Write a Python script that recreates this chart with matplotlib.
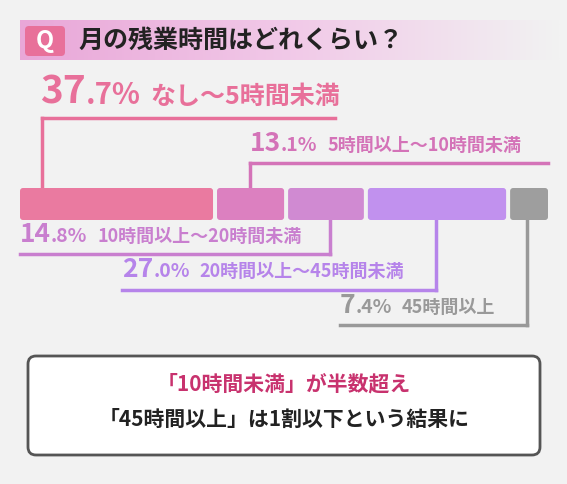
import matplotlib
matplotlib.use("Agg")
import matplotlib.pyplot as plt
from matplotlib.patches import FancyBboxPatch
from matplotlib.colors import LinearSegmentedColormap
import numpy as np

plt.rcParams['font.family'] = ['Noto Sans CJK JP', 'DejaVu Sans']

title = "月の残業時間はどれくらい？"
categories = ["なし～5時間未満", "5時間以上～10時間未満", "10時間以上～20時間未満", "20時間以上～45時間未満", "45時間以上"]
values = [37.7, 13.1, 14.8, 27.0, 7.4]
colors = ["#ea7aa0", "#dc80c0", "#d08ad2", "#c191ee", "#9e9e9e"]
line1 = "「10時間未満」が半数超え"
line2 = "「45時間以上」は1割以下という結果に"

W, H = 567, 484
fig = plt.figure(figsize=(W/100, H/100), dpi=100)
fig.patch.set_facecolor("#f2f2f2")
ax = fig.add_axes([0, 0, 1, 1])
ax.set_xlim(0, W); ax.set_ylim(H, 0); ax.axis("off")

grad = np.linspace(0, 1, 256).reshape(1, -1)
cm = LinearSegmentedColormap.from_list("g", ["#e9a7d8", "#f1c9e8", "#f2f2f2"])
ax.imshow(grad, cmap=cm, extent=[20, 560, 60, 20], aspect="auto", zorder=0)
ax.add_patch(FancyBboxPatch((25, 26), 40, 30, boxstyle="round,pad=0,rounding_size=4", fc="#e8709a", ec="none", zorder=1))
ax.text(45, 41, "Q", color="white", fontsize=17, fontweight="bold", ha="center", va="center", zorder=2)
ax.text(78, 41, title, fontsize=18, fontweight="bold", ha="left", va="center", color="#222")

x0, total, gap = 20, 528, 4
scale = (total - gap*(len(values)-1)) / sum(values)
x = x0
for v, c in zip(values, colors):
    w = v*scale
    ax.add_patch(FancyBboxPatch((x, 188), w, 32, boxstyle="round,pad=0,rounding_size=3", fc=c, ec="none", zorder=2))
    x += w + gap

specs = [
    (42, 118, (42, 335), 40, 104, 28, 21, 18),
    (250, 163, (250, 548), 250, 151, 19, 14, 13),
    (330, 254, (20, 330), 20, 242, 19, 14, 13),
    (436, 290, (122, 436), 122, 277, 19, 14, 13),
    (527, 325, (340, 527), 340, 313, 19, 14, 13),
]
labcols = ["#e8709a", "#d473b8", "#c97fcf", "#b684ea", "#999999"]
fig.canvas.draw()
for i, (v, cat) in enumerate(zip(values, categories)):
    ax_, ly, (h0, h1), lx, lyy, fb, fd, fs = specs[i]
    c = labcols[i]
    ybar = 188 if ly < 188 else 220
    ax.plot([ax_, ax_], [ybar, ly], color=c, lw=2.5, zorder=1)
    ax.plot([h0, h1], [ly, ly], color=c, lw=2.5, zorder=1)
    ip, dp = f"{v:.1f}".split(".")
    t1 = ax.text(lx, lyy, ip, fontsize=fb, color=c, fontweight="bold", ha="left", va="baseline")
    bb = t1.get_window_extent(renderer=fig.canvas.get_renderer())
    t2 = ax.text(bb.x1, H - lyy, f".{dp}%", fontsize=fd, color=c, fontweight="bold",
                 ha="left", va="baseline", transform=None)
    bb2 = t2.get_window_extent(renderer=fig.canvas.get_renderer())
    ax.text(bb2.x1 + 10, H - lyy, cat, fontsize=fs, color=c, fontweight="bold",
            ha="left", va="baseline", transform=None)

ax.add_patch(FancyBboxPatch((28, 356), 512, 99, boxstyle="round,pad=0,rounding_size=8", fc="white", ec="#555555", lw=2, zorder=1))
ax.text(284, 384, line1, fontsize=15, fontweight="bold", color="#c8326e", ha="center", va="center")
ax.text(284, 419, line2, fontsize=15, fontweight="bold", color="#222", ha="center", va="center")

fig.savefig("out.png", dpi=100, facecolor=fig.get_facecolor())
